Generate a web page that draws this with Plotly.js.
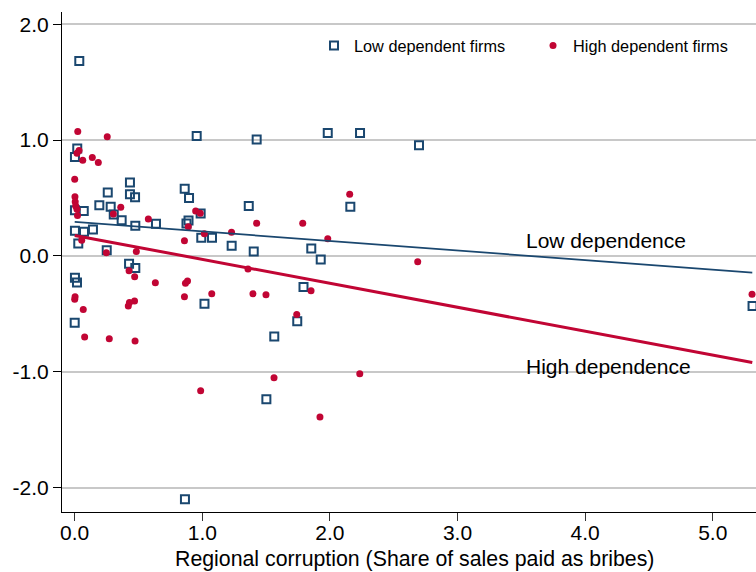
<!DOCTYPE html>
<html>
<head>
<meta charset="utf-8">
<script src="https://cdn.plot.ly/plotly-3.0.1.min.js"></script>
<style>
  html, body { margin: 0; padding: 0; background: #ffffff; overflow: hidden; }
  #chart { width: 756px; height: 572px; }
</style>
</head>
<body>
<div id="chart"></div>
<script>
// Firm-level residuals against regional corruption, split by dependence group
var lowX = [0.036, 0.956, 1.426, 1.983, 2.236, 2.698, 0.002, 0.020, 0.433, 0.259,
            0.433, 0.473, 0.862, 0.896, 1.364, 2.160, 0.193, 0.282, 0.306, 0.368,
            0.002, 0.071, 0.475, 0.637, 0.876, 0.892, 0.987, 0.992, 1.076, 1.230,
            1.403, 1.854, 1.928, 0.002, 0.073, 0.143, 0.028, 0.251, 0.426, 0.475,
            0.002, 0.018, 1.017, 1.793, 1.744, 1.564, 1.502, 0.864, 5.312, 0.000];
var lowY = [1.684, 1.036, 1.005, 1.062, 1.062, 0.956, 0.855, 0.928, 0.634, 0.548,
            0.533, 0.507, 0.579, 0.501, 0.432, 0.424, 0.438, 0.424, 0.358, 0.309,
            0.395, 0.387, 0.260, 0.277, 0.279, 0.305, 0.367, 0.156, 0.156, 0.087,
            0.039, 0.065, -0.030, 0.217, 0.208, 0.229, 0.108, 0.050, -0.068, -0.105,
            -0.189, -0.229, -0.412, -0.269, -0.563, -0.695, -1.238, -2.101, -0.433, -0.577];

var highX = [0.024, 0.255, 0.034, 0.018, 0.063, 0.138, 0.185, 0.000, 0.002, 0.004,
             0.008, 0.018, 0.022, 0.361, 0.303, 0.577, 0.948, 0.984, 0.890, 1.016,
             1.229, 1.426, 1.787, 2.155, 1.983, 0.055, 0.860, 0.483, 0.248, 1.358,
             2.688, 0.426, 0.470, 0.632, 0.884, 0.868, 0.000, 0.003, 0.860, 1.074,
             1.397, 1.499, 1.852, 0.469, 0.420, 0.429, 0.067, 1.740, 0.078, 0.271,
             0.473, 0.987, 1.562, 2.234, 1.922, 5.308];
var highY = [1.074, 1.028, 0.910, 0.887, 0.827, 0.850, 0.807, 0.663, 0.510, 0.467,
             0.432, 0.404, 0.349, 0.421, 0.361, 0.318, 0.387, 0.369, 0.251, 0.191,
             0.204, 0.283, 0.283, 0.533, 0.148, 0.136, 0.130, 0.039, 0.027, -0.114,
             -0.051, -0.129, -0.180, -0.232, -0.216, -0.235, -0.375, -0.353, -0.353, -0.327,
             -0.327, -0.336, -0.301, -0.390, -0.433, -0.403, -0.462, -0.505, -0.701, -0.715,
             -0.735, -1.164, -1.052, -1.017, -1.391, -0.330];

// Linear fits over the observed corruption range
var fitX = [0.0, 5.31];
var lowFitY = [0.294, -0.144];
var highFitY = [0.177, -0.921];

var xTickVals = [0, 1, 2, 3, 4, 5];
var xTickText = ['0.0', '1.0', '2.0', '3.0', '4.0', '5.0'];
var yTickVals = [-2, -1, 0, 1, 2];
var yTickText = ['-2.0', '-1.0', '0.0', '1.0', '2.0'];

var seriesNames = ['Low dependent firms', 'High dependent firms'];
var fitLabels = ['Low dependence', 'High dependence'];
var xTitle = 'Regional corruption (Share of sales paid as bribes)';

var BLUE = '#1a476f';
var RED = '#c10534';
var FONT = 'Liberation Sans, Arial, sans-serif';

var traces = [
  {
    type: 'scatter', mode: 'markers', name: seriesNames[0], legend: 'legend',
    x: lowX, y: lowY,
    marker: { symbol: 'square-open', size: 8, color: BLUE, line: { width: 2, color: BLUE } },
    hoverinfo: 'x+y'
  },
  {
    type: 'scatter', mode: 'markers', name: seriesNames[1], legend: 'legend2',
    x: highX, y: highY,
    marker: { symbol: 'circle', size: 7, color: RED, line: { width: 0 } },
    hoverinfo: 'x+y'
  },
  {
    type: 'scatter', mode: 'lines', x: fitX, y: lowFitY, showlegend: false,
    line: { color: BLUE, width: 1.7 }, hoverinfo: 'skip'
  },
  {
    type: 'scatter', mode: 'lines', x: fitX, y: highFitY, showlegend: false,
    line: { color: RED, width: 3 }, hoverinfo: 'skip'
  }
];

var legendFont = { family: FONT, size: 16.3, color: '#000000' };

var layout = {
  width: 756, height: 572,
  margin: { l: 62, r: 0, t: 12, b: 60, pad: 0 },
  paper_bgcolor: '#ffffff', plot_bgcolor: '#ffffff',
  font: { family: FONT, size: 21, color: '#000000' },
  showlegend: true,
  legend: {
    orientation: 'h', x: 0.3631, xanchor: 'left', y: 0.932, yanchor: 'middle',
    bgcolor: 'rgba(0,0,0,0)', borderwidth: 0, font: legendFont
  },
  legend2: {
    orientation: 'h', x: 0.6787, xanchor: 'left', y: 0.932, yanchor: 'middle',
    bgcolor: 'rgba(0,0,0,0)', borderwidth: 0, font: legendFont
  },
  xaxis: {
    range: [-0.0995, 5.339], tickmode: 'array', tickvals: xTickVals, ticktext: xTickText,
    showgrid: false, zeroline: false, showline: true, linecolor: '#000000', linewidth: 1,
    ticks: 'outside', ticklen: 8, tickwidth: 1, tickcolor: '#333333',
    ticklabelstandoff: -6,
    tickfont: { family: FONT, size: 21, color: '#000000' }
  },
  yaxis: {
    range: [-2.211, 2.106], tickmode: 'array', tickvals: yTickVals, ticktext: yTickText,
    showgrid: true, gridcolor: '#c8c8c8', gridwidth: 2, zeroline: false,
    showline: true, linecolor: '#000000', linewidth: 1,
    ticks: 'outside', ticklen: 8, tickwidth: 1, tickcolor: '#000000',
    tickfont: { family: FONT, size: 21, color: '#000000' }
  },
  shapes: [
    { type: 'rect', xref: 'paper', yref: 'paper', x0: 0.3617, x1: 1, y0: 0.874, y1: 1,
      fillcolor: '#ffffff', line: { width: 0 }, layer: 'between' }
  ],
  annotations: [
    { x: 3.521, y: 0.136, xref: 'x', yref: 'y', text: fitLabels[0], showarrow: false,
      xanchor: 'left', yanchor: 'middle', font: { family: FONT, size: 21, color: '#000000' } },
    { x: 3.521, y: -0.959, xref: 'x', yref: 'y', text: fitLabels[1], showarrow: false,
      xanchor: 'left', yanchor: 'middle', font: { family: FONT, size: 21, color: '#000000' } },
    // x-axis title
    { x: 0.5086, y: -0.094, xref: 'paper', yref: 'paper', text: xTitle, showarrow: false,
      xanchor: 'center', yanchor: 'middle', font: { family: FONT, size: 21.3, color: '#000000' } }
  ]
};

Plotly.newPlot('chart', traces, layout, { staticPlot: true, displayModeBar: false });
</script>
</body>
</html>
